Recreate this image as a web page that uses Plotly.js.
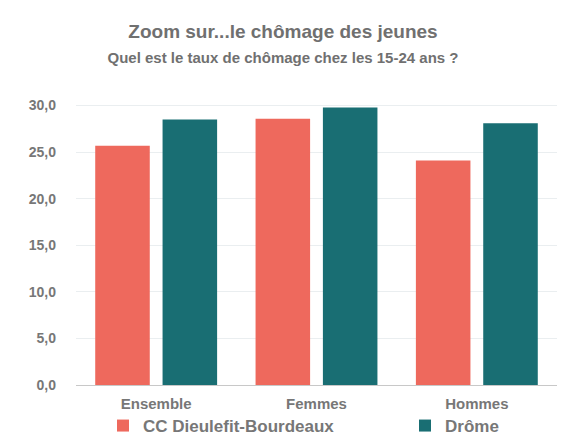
<!DOCTYPE html>
<html><head><meta charset="utf-8">
<script src="https://cdn.plot.ly/plotly-3.0.1.min.js"></script>
<style>html,body{margin:0;padding:0;background:#fff}#chart{width:566px;height:444px}</style>
</head><body><div id="chart"></div>
<script>
const categories = ["Ensemble", "Femmes", "Hommes"];
const seriesNames = ["CC Dieulefit-Bourdeaux", "Drôme"];
const ccValues = [25.7, 28.6, 24.1];
const dromeValues = [28.5, 29.8, 28.1];
const yTicks = [0, 5, 10, 15, 20, 25, 30];

const font = {family: "Liberation Sans, Arial, sans-serif", color: "#777777", size: 14, weight: "bold"};
const data = [
  {type: "bar", name: seriesNames[0], x: categories, y: ccValues, marker: {color: "#ee695d"}, legend: "legend"},
  {type: "bar", name: seriesNames[1], x: categories, y: dromeValues, marker: {color: "#196e73"}, legend: "legend2"}
];
const legendBase = {orientation: "h", xref: "container", xanchor: "left", yref: "container", y: 0.0, yanchor: "bottom",
                    font: {size: 17, weight: "bold"}, bgcolor: "rgba(0,0,0,0)"};
const layout = {
  width: 566, height: 444,
  paper_bgcolor: "#ffffff", plot_bgcolor: "#ffffff",
  font: font,
  separators: ", ",
  margin: {l: 76, r: 9, t: 100, b: 59, autoexpand: false},
  barmode: "group", bargap: 0.16, bargroupgap: 0.19,
  title: {text: "<b>Zoom sur...le chômage des jeunes</b><br><span style='font-size:15px'><b>Quel est le taux de chômage chez les 15-24 ans ?</b></span>",
          x: 0.5, xanchor: "center", yref: "container", y: 1 - 38/444, yanchor: "top",
          font: {family: font.family, size: 19, color: "#707070", weight: "bold"}},
  xaxis: {tickfont: {size: 15, weight: "bold"}, showline: false, ticks: "", ticklabelstandoff: 8, fixedrange: true},
  yaxis: {range: [0, 30.6], tickvals: yTicks, tickformat: ".1f", tickfont: {size: 14, weight: "bold"},
          gridcolor: "#eaeef0", zeroline: true, zerolinecolor: "#c8c8c8", ticks: "", ticklabelstandoff: 19},
  legend: Object.assign({}, legendBase, {x: 103/566}),
  legend2: Object.assign({}, legendBase, {x: 405/566}),
  showlegend: true
};
Plotly.newPlot("chart", data, layout, {displayModeBar: false, staticPlot: true});
</script></body></html>
